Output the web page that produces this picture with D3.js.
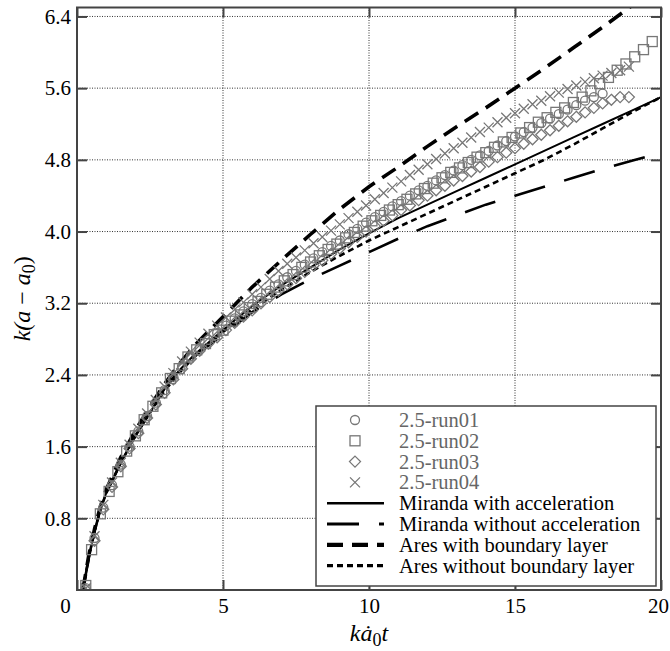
<!DOCTYPE html>
<html>
<head>
<meta charset="utf-8">
<script src="https://cdn.jsdelivr.net/npm/d3@7"></script>
<style>
  body { margin: 0; background: #fff; }
  svg text { font-family: "Liberation Serif", "Times New Roman", serif !important; }
</style>
</head>
<body>
<div id="chart"></div>
<script>
// ---- data ----
var xTicks = [0, 5, 10, 15, 20];
var yTicks = [0.8, 1.6, 2.4, 3.2, 4.0, 4.8, 5.6, 6.4];

// scatter runs
var run01X = [0.3,0.6,0.9,1.2,1.5,1.8,2.1,2.4,2.7,3.0,3.3,3.6,3.9,4.2,4.5,4.8,5.1,5.4,5.7,6.0,6.3,6.6,6.9,7.2,7.5,7.8,8.1,8.4,8.7,9.0,9.3,9.6,9.9,10.2,10.5,10.8,11.1,11.4,11.7,12.0,12.3,12.6,12.9,13.2,13.5,13.8,14.1,14.4,14.7,15.0,15.3,15.6,15.9,16.2,16.5,16.8,17.1,17.4,17.7,18.0];
var run01Y = [0.02,0.58,0.92,1.17,1.40,1.60,1.77,1.94,2.09,2.23,2.38,2.50,2.61,2.70,2.79,2.87,2.95,3.03,3.11,3.19,3.26,3.34,3.41,3.49,3.56,3.63,3.70,3.77,3.84,3.90,3.97,4.03,4.10,4.16,4.22,4.28,4.34,4.40,4.46,4.51,4.57,4.63,4.68,4.74,4.80,4.85,4.90,4.96,5.01,5.06,5.11,5.16,5.21,5.26,5.31,5.36,5.41,5.46,5.50,5.54];

var run02X = [0.3,0.5,0.8,1.1,1.4,1.7,2.0,2.3,2.6,2.9,3.2,3.5,3.8,4.1,4.4,4.7,5.0,5.3,5.6,5.9,6.2,6.5,6.8,7.1,7.4,7.7,8.0,8.3,8.6,8.9,9.2,9.5,9.8,10.1,10.4,10.7,11.0,11.3,11.6,11.9,12.2,12.5,12.8,13.1,13.4,13.7,14.0,14.3,14.6,14.9,15.2,15.5,15.8,16.1,16.4,16.7,17.0,17.3,17.6,17.9,18.2,18.5,18.8,19.1,19.4,19.7];
var run02Y = [0.05,0.45,0.85,1.10,1.32,1.55,1.72,1.90,2.05,2.20,2.36,2.47,2.60,2.68,2.75,2.85,2.90,3.00,3.07,3.15,3.22,3.30,3.38,3.45,3.52,3.60,3.66,3.73,3.80,3.86,3.93,3.99,4.06,4.12,4.18,4.24,4.30,4.36,4.42,4.48,4.54,4.60,4.66,4.71,4.77,4.83,4.88,4.94,5.00,5.05,5.10,5.16,5.22,5.27,5.33,5.38,5.44,5.50,5.57,5.65,5.72,5.80,5.87,5.95,6.03,6.12];

var run03X = [0.3,0.6,0.9,1.2,1.5,1.8,2.1,2.4,2.7,3.0,3.3,3.6,3.9,4.2,4.5,4.8,5.1,5.4,5.7,6.0,6.3,6.6,6.9,7.2,7.5,7.8,8.1,8.4,8.7,9.0,9.3,9.6,9.9,10.2,10.5,10.8,11.1,11.4,11.7,12.0,12.3,12.6,12.9,13.2,13.5,13.8,14.1,14.4,14.7,15.0,15.3,15.6,15.9,16.2,16.5,16.8,17.1,17.4,17.7,18.0,18.3,18.6,18.9];
var run03Y = [0.00,0.55,0.90,1.15,1.38,1.58,1.75,1.92,2.07,2.20,2.35,2.47,2.58,2.67,2.75,2.82,2.90,2.98,3.05,3.12,3.20,3.27,3.34,3.41,3.48,3.55,3.62,3.68,3.75,3.81,3.88,3.94,4.00,4.06,4.12,4.18,4.24,4.29,4.35,4.40,4.46,4.51,4.57,4.62,4.67,4.72,4.78,4.83,4.88,4.93,4.98,5.03,5.08,5.13,5.18,5.23,5.28,5.33,5.38,5.43,5.47,5.50,5.50];

var run04X = [0.3,0.6,0.9,1.2,1.5,1.8,2.1,2.4,2.7,3.0,3.3,3.6,3.9,4.2,4.5,4.8,5.1,5.4,5.7,6.0,6.3,6.6,6.9,7.2,7.5,7.8,8.1,8.4,8.7,9.0,9.3,9.6,9.9,10.2,10.5,10.8,11.1,11.4,11.7,12.0,12.3,12.6,12.9,13.2,13.5,13.8,14.1,14.4,14.7,15.0,15.3,15.6,15.9,16.2,16.5,16.8,17.1,17.4,17.7,18.0,18.3,18.6,18.9];
var run04Y = [0.02,0.60,0.95,1.20,1.42,1.62,1.80,1.97,2.12,2.27,2.42,2.55,2.66,2.76,2.86,2.95,3.04,3.13,3.21,3.30,3.38,3.47,3.56,3.64,3.71,3.79,3.87,3.94,4.01,4.08,4.15,4.22,4.29,4.36,4.43,4.49,4.56,4.63,4.69,4.75,4.81,4.87,4.93,4.99,5.05,5.11,5.16,5.22,5.27,5.32,5.37,5.42,5.46,5.51,5.55,5.59,5.63,5.67,5.71,5.74,5.77,5.80,5.84];

// model curves
var curveX = [0.2,0.4,0.6,0.8,1,1.5,2,2.5,3,3.5,4,5,6,7,8,9,10,11,12,13,14,15,16,17,18,19,20];
var mirandaAccY   = [0,0.35,0.65,0.9,1.08,1.42,1.72,1.98,2.25,2.45,2.62,2.9,3.17,3.4,3.6,3.8,3.98,4.15,4.3,4.45,4.6,4.75,4.9,5.05,5.2,5.35,5.5];
var mirandaNoAccY = [0,0.35,0.65,0.9,1.08,1.42,1.72,1.98,2.25,2.45,2.6,2.85,3.1,3.3,3.47,3.62,3.77,3.92,4.06,4.18,4.3,4.4,4.5,4.6,4.7,4.79,4.88];
var aresBLY       = [0,0.38,0.68,0.93,1.12,1.48,1.78,2.05,2.3,2.52,2.72,3.05,3.38,3.68,3.97,4.25,4.5,4.72,4.95,5.17,5.38,5.6,5.82,6.05,6.28,6.52,6.75];
var aresNoBLY     = [0,0.36,0.66,0.9,1.08,1.42,1.72,1.98,2.22,2.42,2.6,2.88,3.13,3.35,3.55,3.73,3.9,4.05,4.2,4.35,4.5,4.65,4.8,4.97,5.15,5.33,5.5];

var runNames = ["2.5-run01", "2.5-run02", "2.5-run03", "2.5-run04"];
var lineNames = ["Miranda with acceleration", "Miranda without acceleration",
                 "Ares with boundary layer", "Ares without boundary layer"];

// ---- layout ----
var svgWidth = 670, svgHeight = 651;
var margin = { top: 7.5, right: 9, bottom: 61, left: 77 };
var width = svgWidth - margin.left - margin.right;
var height = svgHeight - margin.top - margin.bottom;
var serif = "'Liberation Serif', 'Times New Roman', serif";

var svg = d3.select("#chart").append("svg")
  .attr("width", svgWidth)
  .attr("height", svgHeight);

var chartGroup = svg.append("g")
  .attr("transform", `translate(${margin.left}, ${margin.top})`);

var xScale = d3.scaleLinear().domain([0, 20]).range([0, width]);
var yScale = d3.scaleLinear().domain([0, 6.5]).range([height, 0]);

chartGroup.append("clipPath").attr("id", "clip")
  .append("rect").attr("width", width).attr("height", height);

// grid
chartGroup.append("g").selectAll("line")
  .data(xTicks.slice(1, -1)).enter().append("line")
  .attr("x1", d => xScale(d)).attr("x2", d => xScale(d))
  .attr("y1", 0).attr("y2", height)
  .attr("stroke", "#333").attr("stroke-width", 1).attr("stroke-dasharray", "1,1.5");

chartGroup.append("g").selectAll("line")
  .data(yTicks).enter().append("line")
  .attr("y1", d => yScale(d)).attr("y2", d => yScale(d))
  .attr("x1", 0).attr("x2", width)
  .attr("stroke", "#333").attr("stroke-width", 1).attr("stroke-dasharray", "1,1.5");

// axes with inward ticks
var xAxis = d3.axisBottom(xScale).tickValues(xTicks).tickSizeInner(-10).tickSizeOuter(0).tickPadding(8);
var yAxis = d3.axisLeft(yScale).tickValues(yTicks).tickSizeInner(-10).tickSizeOuter(0).tickPadding(6)
  .tickFormat(d3.format(".1f"));

var gx = chartGroup.append("g").attr("transform", `translate(0, ${height})`).call(xAxis);
var gy = chartGroup.append("g").call(yAxis);
chartGroup.append("g").call(d3.axisTop(xScale).tickValues(xTicks).tickSizeInner(-10).tickSizeOuter(0).tickFormat(""));
chartGroup.append("g").attr("transform", `translate(${width}, 0)`)
  .call(d3.axisRight(yScale).tickValues(yTicks).tickSizeInner(-10).tickSizeOuter(0).tickFormat(""));

chartGroup.selectAll(".domain").remove();
chartGroup.selectAll(".tick line").attr("stroke", "#444").attr("stroke-width", 2);
chartGroup.selectAll(".tick text")
  .style("font-family", serif)
  .style("font-size", "21px")
  .attr("fill", "#000");
gx.selectAll(".tick text").filter(d => d === 0).attr("dx", -12);
gx.selectAll(".tick text").filter(d => d === 20).attr("dx", -3);

// model lines
var lineGen = d3.line().x(d => xScale(d[0])).y(d => yScale(d[1]));
var lineStyles = [
  { ys: mirandaAccY,   dash: null,    w: 2 },
  { ys: mirandaNoAccY, dash: "32,20", w: 2.6 },
  { ys: aresBLY,       dash: "16,9",  w: 3.6 },
  { ys: aresNoBLY,     dash: "6,4",   w: 2.6 }
];
var linesGroup = chartGroup.append("g").attr("clip-path", "url(#clip)");
lineStyles.forEach(function(s) {
  linesGroup.append("path")
    .datum(curveX.map((x, i) => [x, s.ys[i]]))
    .attr("d", lineGen)
    .attr("fill", "none")
    .attr("stroke", "#000")
    .attr("stroke-width", s.w)
    .attr("stroke-dasharray", s.dash);
});

// markers
var grey = "#777";
function drawMarker(g, kind, x, y) {
  if (kind === 0) {
    g.append("circle").attr("cx", x).attr("cy", y).attr("r", 4.5);
  } else if (kind === 1) {
    g.append("rect").attr("x", x - 5).attr("y", y - 5).attr("width", 10).attr("height", 10);
  } else if (kind === 2) {
    g.append("path").attr("d", `M${x},${y - 5.5}L${x + 5.5},${y}L${x},${y + 5.5}L${x - 5.5},${y}Z`);
  } else {
    g.append("path").attr("d", `M${x - 5},${y - 5}L${x + 5},${y + 5}M${x - 5},${y + 5}L${x + 5},${y - 5}`);
  }
}
var runs = [[run01X, run01Y], [run02X, run02Y], [run03X, run03Y], [run04X, run04Y]];
var markGroup = chartGroup.append("g")
  .attr("fill", "none").attr("stroke", grey).attr("stroke-width", 1.3)
  .attr("clip-path", "url(#clip)");
runs.forEach(function(r, k) {
  r[0].forEach(function(x, i) {
    drawMarker(markGroup, k, xScale(x), yScale(r[1][i]));
  });
});

// frame
chartGroup.append("rect")
  .attr("width", width).attr("height", height)
  .attr("fill", "none").attr("stroke", "#444").attr("stroke-width", 2);

// legend
var legend = svg.append("g").attr("transform", "translate(316, 406)");
legend.append("rect")
  .attr("width", 340).attr("height", 180)
  .attr("fill", "#fff").attr("stroke", "#444").attr("stroke-width", 1.5);
var rowY = d => 14 + d * 20.8;
var lg = legend.append("g").attr("fill", "none").attr("stroke", grey).attr("stroke-width", 1.3);
runNames.forEach(function(name, k) {
  drawMarker(lg, k, 39, rowY(k));
  legend.append("text")
    .attr("x", 83).attr("y", rowY(k) + 7)
    .style("font-family", serif).style("font-size", "20.5px")
    .attr("fill", "#666")
    .text(name);
});
lineNames.forEach(function(name, k) {
  var s = lineStyles[k];
  legend.append("line")
    .attr("x1", 11).attr("x2", 68)
    .attr("y1", rowY(k + 4)).attr("y2", rowY(k + 4))
    .attr("stroke", "#000").attr("stroke-width", s.w + 0.6)
    .attr("stroke-dasharray", s.dash);
  legend.append("text")
    .attr("x", 83).attr("y", rowY(k + 4) + 7)
    .style("font-family", serif).style("font-size", "20.5px")
    .attr("fill", "#000")
    .text(name);
});

// axis titles
var xTitle = svg.append("text")
  .attr("x", margin.left + width / 2).attr("y", 641)
  .attr("text-anchor", "middle")
  .style("font-family", serif).style("font-size", "24px").style("font-style", "italic");
xTitle.append("tspan").text("k\u0227");
xTitle.append("tspan").style("font-style", "normal").style("font-size", "18px").attr("dy", 5).text("0");
xTitle.append("tspan").attr("dy", -5).text("t");

var yTitle = svg.append("text")
  .attr("transform", `translate(30, ${margin.top + height / 2}) rotate(-90)`)
  .attr("text-anchor", "middle")
  .style("font-family", serif).style("font-size", "24px").style("font-style", "italic");
yTitle.append("tspan").text("k(a");
yTitle.append("tspan").style("font-style", "normal").text(" \u2212 ");
yTitle.append("tspan").text("a");
yTitle.append("tspan").style("font-style", "normal").style("font-size", "18px").attr("dy", 5).text("0");
yTitle.append("tspan").style("font-style", "normal").attr("dy", -5).text(")");
</script>
</body>
</html>
